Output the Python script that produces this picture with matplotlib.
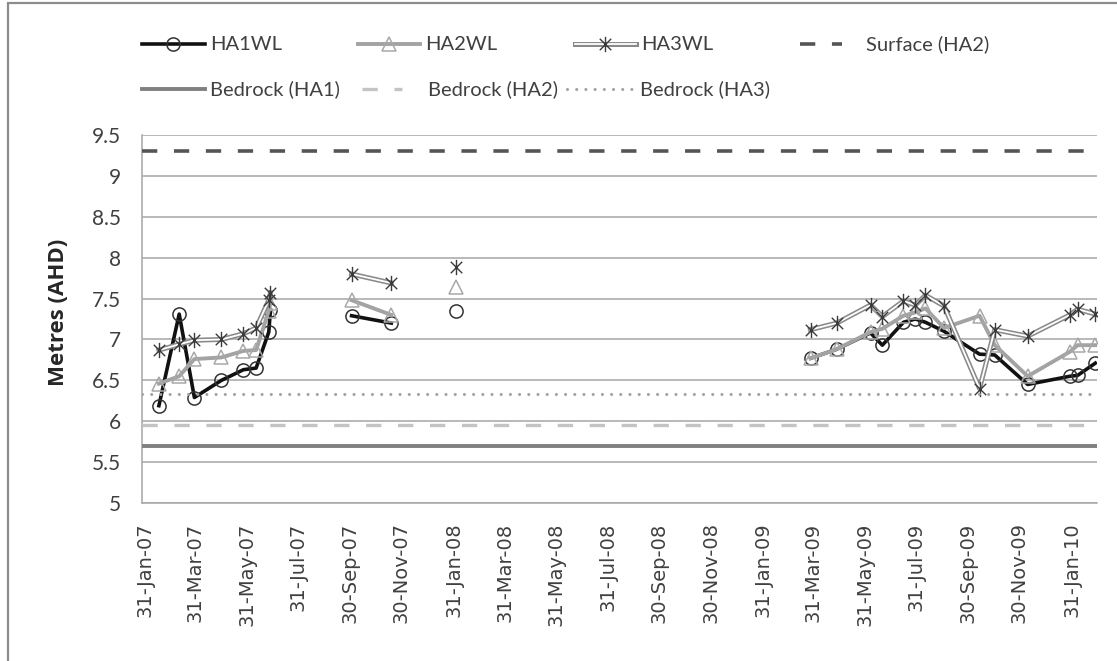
import numpy as np
import matplotlib
matplotlib.use("Agg")
import matplotlib.pyplot as plt
import matplotlib.dates as mdates
from matplotlib.lines import Line2D
from matplotlib.patches import Rectangle
from matplotlib.path import Path
from datetime import datetime

# ---- data -------------------------------------------------------------
# None rows separate the monitoring campaigns so the lines break there
dates = [
    "2007-02-16", "2007-03-12", "2007-03-30", "2007-05-01", "2007-05-27",
    "2007-06-11", "2007-06-26", "2007-06-28",
    None,
    "2007-10-02", "2007-11-18",
    None,
    "2008-02-03",
    None,
    "2009-03-28", "2009-04-28", "2009-06-07", "2009-06-21", "2009-07-16",
    "2009-07-30", "2009-08-11", "2009-09-02", "2009-10-14", "2009-11-01",
    "2009-12-10", "2010-01-29", "2010-02-07", "2010-02-28",
]
gap_dates = ["2007-08-15", "2007-12-25", "2008-06-30"]

ha1_wl = [6.19, 7.31, 6.29, 6.50, 6.63, 6.65, 7.09, 7.36,
          None, 7.29, 7.20,
          None, 7.35,
          None, 6.77, 6.88, 7.08, 6.93, 7.21, 7.25, 7.21, 7.10, 6.82, 6.81,
          6.45, 6.55, 6.56, 6.71]
ha2_wl = [6.46, 6.55, 6.76, 6.78, 6.86, 6.87, 7.35, 7.45,
          None, 7.48, 7.30,
          None, 7.64,
          None, 6.77, 6.88, 7.09, 7.13, 7.29, 7.33, 7.38, 7.14, 7.29, 6.93,
          6.55, 6.85, 6.93, 6.93]
ha3_wl = [6.87, 6.94, 6.99, 7.00, 7.07, 7.14, 7.48, 7.57,
          None, 7.80, 7.69,
          None, 7.89,
          None, 7.12, 7.20, 7.42, 7.28, 7.47, 7.42, 7.54, 7.41, 6.40, 7.12,
          7.04, 7.30, 7.37, 7.31]

surface_ha2 = 9.30
bedrock_ha1 = 5.70
bedrock_ha2 = 5.95
bedrock_ha3 = 6.33

y_ticks = [5, 5.5, 6, 6.5, 7, 7.5, 8, 8.5, 9, 9.5]
x_tick_dates = ["2007-01-31", "2007-03-31", "2007-05-31", "2007-07-31",
                "2007-09-30", "2007-11-30", "2008-01-31", "2008-03-31",
                "2008-05-31", "2008-07-31", "2008-09-30", "2008-11-30",
                "2009-01-31", "2009-03-31", "2009-05-31", "2009-07-31",
                "2009-09-30", "2009-11-30", "2010-01-31"]
x_range = ["2007-01-27", "2010-03-02"]

# ---- helpers ----------------------------------------------------------
gap_iter = iter(gap_dates)
x = [mdates.date2num(datetime.strptime(d if d else next(gap_iter), "%Y-%m-%d"))
     for d in dates]
x = np.array(x)


def arr(v):
    return np.array([np.nan if a is None else a for a in v], dtype=float)


# spreadsheet-style star: a vertical stroke crossed by an X
STAR = Path([(0, -1), (0, 1), (-0.75, -0.75), (0.75, 0.75),
             (-0.75, 0.75), (0.75, -0.75)],
            [Path.MOVETO, Path.LINETO, Path.MOVETO, Path.LINETO,
             Path.MOVETO, Path.LINETO])

W, H = 1117, 661
fig = plt.figure(figsize=(W / 100, H / 100), dpi=100)
fig.patch.set_facecolor("white")

ax = fig.add_axes([142 / W, (H - 503) / H, (1097 - 142) / W, 368 / H])

GRID = "#a6a6a6"
TXT = "#404040"

# horizontal gridlines
for yv in y_ticks:
    ax.axhline(yv, color=GRID, lw=1.1, zorder=1)

# water level series
ax.plot(x, arr(ha1_wl), color="#111111", lw=2.6, marker="o", ms=9.5,
        mfc="none", mec="#333333", mew=1.1, zorder=3)
ax.plot(x, arr(ha2_wl), color="#a3a3a3", lw=2.8, marker="^", ms=9.5,
        mfc="none", mec="#a8a8a8", mew=1.1, zorder=4)
ax.plot(x, arr(ha3_wl), color="#8a8a8a", lw=3.6, zorder=5)
ax.plot(x, arr(ha3_wl), color="white", lw=1.3, zorder=5.1)
ax.plot(x, arr(ha3_wl), ls="none", marker=STAR, ms=11,
        mec="#3a3a3a", mew=1.0, zorder=5.2)

# reference levels
ax.axhline(surface_ha2, color="#555555", lw=2.6,
           dashes=(11 / 2.6, 12 / 2.6), zorder=6)
ax.axhline(bedrock_ha1, color="#808080", lw=2.8, zorder=6)
ax.axhline(bedrock_ha2, color="#c4c4c4", lw=2.4,
           dashes=(11 / 2.4, 12 / 2.4), zorder=6)
ax.axhline(bedrock_ha3, color="#a0a0a0", lw=2.2, dash_capstyle="round",
           dashes=(0.01, 3.0), zorder=6)

# axes
ax.set_ylim(5, 9.5)
ax.set_xlim(mdates.date2num(datetime.strptime(x_range[0], "%Y-%m-%d")),
            mdates.date2num(datetime.strptime(x_range[1], "%Y-%m-%d")))
ax.set_yticks(y_ticks)
ax.set_yticklabels([f"{v:g}" for v in y_ticks])
ax.set_xticks([mdates.date2num(datetime.strptime(d, "%Y-%m-%d"))
               for d in x_tick_dates])
ax.xaxis.set_major_formatter(mdates.DateFormatter("%d-%b-%y"))
for lab in ax.get_xticklabels():
    lab.set_rotation(90)
    lab.set_va("top")
    lab.set_ha("center")
    lab.set_fontfamily("DejaVu Sans")
    lab.set_fontsize(14)
    lab.set_color(TXT)
for lab in ax.get_yticklabels():
    lab.set_fontfamily("Lato")
    lab.set_fontsize(15)
    lab.set_color(TXT)
ax.tick_params(axis="x", length=0, pad=14)
ax.tick_params(axis="y", length=0, pad=15)

for side in ("top", "right"):
    ax.spines[side].set_visible(False)
for side in ("left", "bottom"):
    ax.spines[side].set_color(GRID)
    ax.spines[side].set_linewidth(1.1)

fig.text(58 / W, 1 - 312 / H, "Metres (AHD)", rotation=90, ha="center",
         va="center", fontsize=16, fontweight="bold", family="Open Sans",
         color="#262626")

# ---- legend (two rows, laid out like the spreadsheet legend) ----------
def fp(px, py):
    return px / W, 1 - py / H


def key_line(x0, x1, y, **kw):
    (a, b), (c, d) = fp(x0, y), fp(x1, y)
    fig.add_artist(Line2D([a, c], [b, d], transform=fig.transFigure, **kw))


def key_marker(xm, y, **kw):
    a, b = fp(xm, y)
    fig.add_artist(Line2D([a], [b], transform=fig.transFigure, ls="none", **kw))


def key_text(x0, y, s):
    a, b = fp(x0, y)
    fig.text(a, b, s, ha="left", va="center", fontsize=14.5,
             family="Lato", color=TXT)


r1, r2 = 44, 89
key_line(142, 205, r1, color="#111111", lw=2.6)
key_marker(173, r1, marker="o", ms=9.5, mfc="none", mec="#333333", mew=1.1)
key_text(210, r1, "HA1WL")

key_line(358, 420, r1, color="#a3a3a3", lw=2.8)
key_marker(389, r1, marker="^", ms=9.5, mfc="none", mec="#a8a8a8", mew=1.1)
key_text(425, r1, "HA2WL")

key_line(575, 636, r1, color="#8a8a8a", lw=3.6)
key_line(575, 636, r1, color="white", lw=1.3)
key_marker(605, r1, marker=STAR, ms=11, mec="#3a3a3a", mew=1.0)
key_text(641, r1, "HA3WL")

key_line(800, 842, r1, color="#555555", lw=2.6, dashes=(11 / 2.6, 12 / 2.6))
key_text(866, r1, "Surface (HA2)")

key_line(142, 205, r2, color="#808080", lw=2.8)
key_text(210, r2, "Bedrock (HA1)")

key_line(362, 402, r2, color="#c4c4c4", lw=2.4, dashes=(11 / 2.4, 12 / 2.4))
key_text(428, r2, "Bedrock (HA2)")

key_line(567, 633, r2, color="#a0a0a0", lw=2.2, dash_capstyle="round",
         dashes=(0.01, 3.0))
key_text(640, r2, "Bedrock (HA3)")

# chart border
a, b = fp(8, 660 + 50)
fig.add_artist(Rectangle((a, b), (W + 50) / W, (660 + 50 - 2.5) / H,
                         transform=fig.transFigure, fill=False,
                         ec="#8c8c8c", lw=1.6, clip_on=False))

fig.savefig("out.png", dpi=100, facecolor="white")
